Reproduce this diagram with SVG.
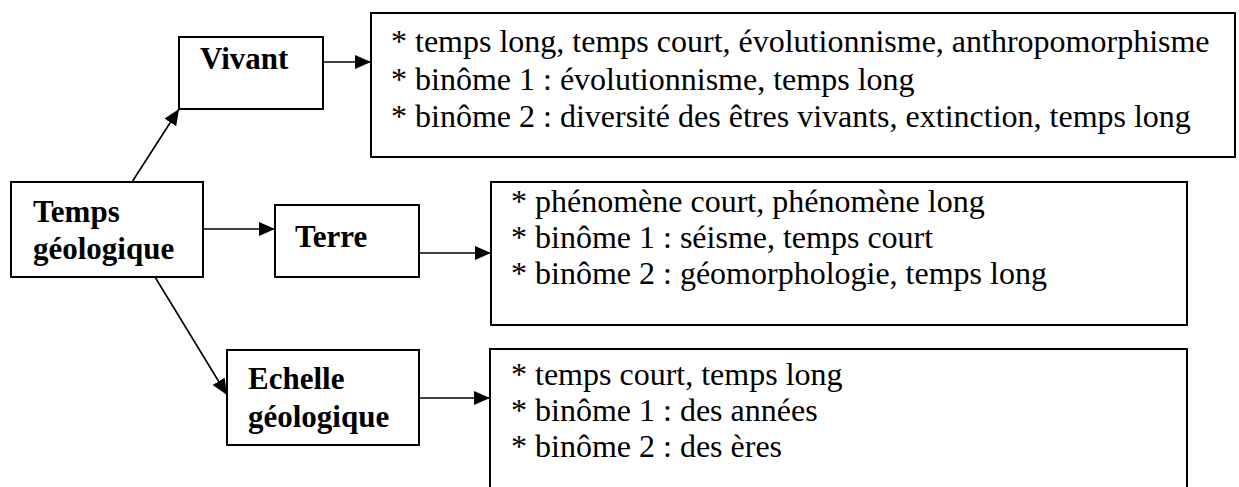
<svg xmlns="http://www.w3.org/2000/svg" width="1239" height="487" viewBox="0 0 1239 487">
<defs>
<marker id="arr" markerUnits="userSpaceOnUse" markerWidth="16" markerHeight="14" refX="16" refY="7" orient="auto">
<path d="M0,0 L16,7 L0,14 z" fill="#000"/>
</marker>
<style>
.box{fill:#fff;stroke:#000;stroke-width:2}
.lbl{font-family:"Liberation Serif","Times New Roman",serif;font-weight:bold;font-size:31px;fill:#000}
.txt{font-family:"Liberation Serif","Times New Roman",serif;font-size:32px;fill:#000}
.con{stroke:#000;stroke-width:1.6;fill:none;marker-end:url(#arr)}
</style>
</defs>
<rect width="1239" height="487" fill="#fff"/>
<g id="connectors">
<line class="con" x1="132" y1="182" x2="179" y2="109"/>
<line class="con" x1="203" y1="229" x2="275" y2="229"/>
<line class="con" x1="155" y1="277" x2="227" y2="395"/>
<line class="con" x1="323" y1="62" x2="371" y2="62"/>
<line class="con" x1="419" y1="253" x2="491" y2="253"/>
<line class="con" x1="419" y1="398" x2="490" y2="398"/>
</g>
<g id="temps">
<rect class="box" x="11" y="182" width="192" height="95"/>
<text class="lbl" x="33" y="222">Temps</text>
<text class="lbl" x="33" y="259">géologique</text>
</g>
<g id="vivant">
<rect class="box" x="179" y="37" width="144" height="72"/>
<text class="lbl" x="200" y="69">Vivant</text>
</g>
<g id="terre">
<rect class="box" x="275" y="205" width="144" height="72"/>
<text class="lbl" x="295" y="247">Terre</text>
</g>
<g id="echelle">
<rect class="box" x="227" y="350" width="192" height="95"/>
<text class="lbl" x="248" y="389">Echelle</text>
<text class="lbl" x="248" y="427">géologique</text>
</g>
<g id="box-vivant">
<rect class="box" x="371" y="13" width="864" height="144"/>
<text class="txt" x="391" y="52">* temps long, temps court, évolutionnisme, anthropomorphisme</text>
<text class="txt" x="391" y="90">* binôme 1 : évolutionnisme, temps long</text>
<text class="txt" x="391" y="127">* binôme 2 : diversité des êtres vivants, extinction, temps long</text>
</g>
<g id="box-terre">
<rect class="box" x="491" y="182" width="696" height="143"/>
<text class="txt" x="511" y="212">* phénomène court, phénomène long</text>
<text class="txt" x="511" y="248">* binôme 1 : séisme, temps court</text>
<text class="txt" x="511" y="284">* binôme 2 : géomorphologie, temps long</text>
</g>
<g id="box-echelle">
<rect class="box" x="490" y="349" width="697" height="160"/>
<text class="txt" x="511" y="385">* temps court, temps long</text>
<text class="txt" x="511" y="421">* binôme 1 : des années</text>
<text class="txt" x="511" y="457">* binôme 2 : des ères</text>
</g>
</svg>
